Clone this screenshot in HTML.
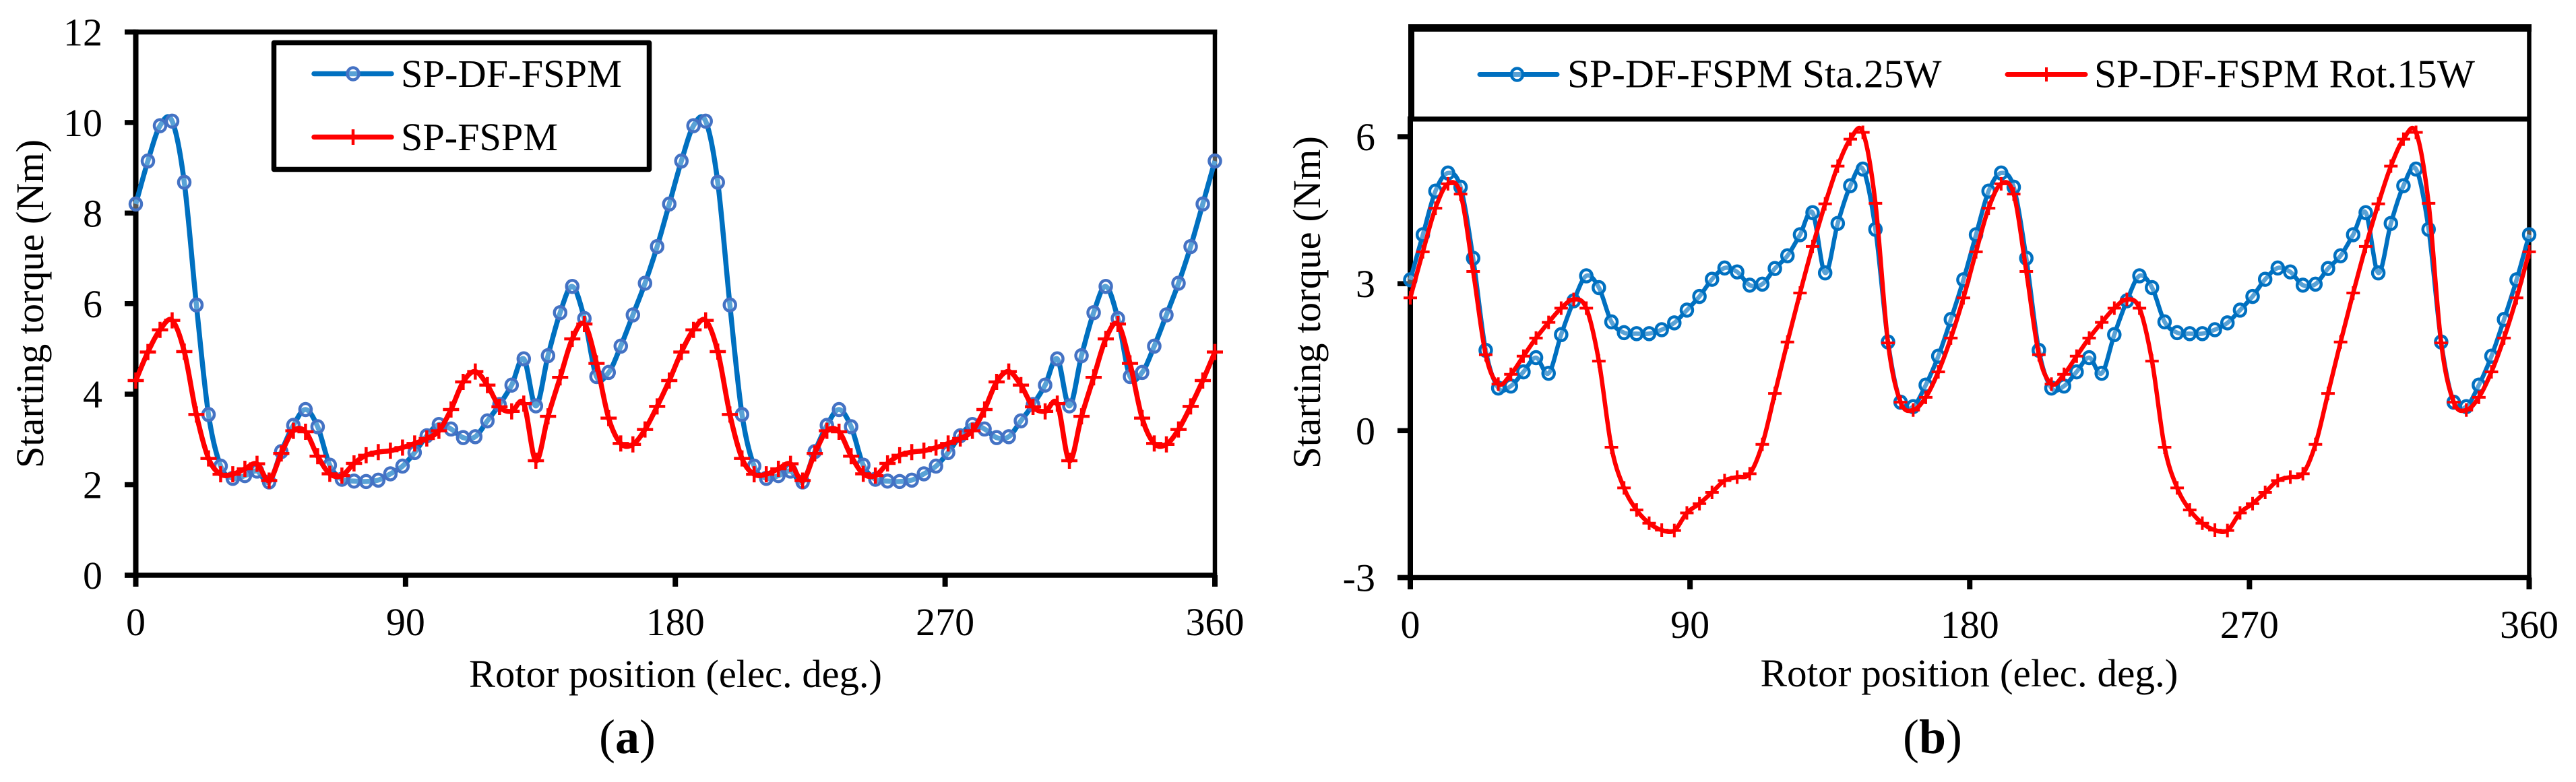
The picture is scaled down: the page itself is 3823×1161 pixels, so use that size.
<!DOCTYPE html>
<html lang="en">
<head>
<meta charset="utf-8">
<title>Starting torque versus rotor position</title>
<style>
html,body{margin:0;padding:0;background:#fff;}
body{width:3823px;height:1161px;overflow:hidden;}
svg{display:block;}
text{font-family:"Liberation Serif","Times New Roman",serif;fill:#000;}
</style>
</head>
<body>
<svg id="figure" xmlns="http://www.w3.org/2000/svg" width="3823" height="1161" viewBox="0 0 3823 1161">
  <rect x="0" y="0" width="3823" height="1161" fill="#ffffff"/>
  <g id="chart-a"></g>
  <g id="chart-b"></g>

  <g>
    <rect x="406.5" y="63.5" width="557" height="188" fill="#ffffff" stroke="#000" stroke-width="7.5" stroke-linejoin="round"/>
    <line x1="466" y1="109.5" x2="581" y2="109.5" stroke="#0070C0" stroke-width="7.5" stroke-linecap="round"/>
    <ellipse cx="524" cy="109.5" rx="8.5" ry="9" fill="#ffffff" fill-opacity="0.35" stroke="#4472C4" stroke-width="4.5"/>
    <text x="595" y="129" font-size="58.5" textLength="328" lengthAdjust="spacingAndGlyphs">SP-DF-FSPM</text>
    <line x1="466" y1="203.5" x2="581" y2="203.5" stroke="#FF0000" stroke-width="7.5" stroke-linecap="round"/>
    <line x1="524" y1="192" x2="524" y2="215" stroke="#FF0000" stroke-width="4.5"/>
    <text x="595" y="223" font-size="58.5" textLength="233" lengthAdjust="spacingAndGlyphs">SP-FSPM</text>
  </g>

  <g>
    <rect x="2090" y="36" width="1667" height="11" fill="#000"/>
    <rect x="2090" y="173" width="1665" height="7.5" fill="#000"/>
    <rect x="2090" y="36" width="9" height="144" fill="#000"/>
    <line x1="2196" y1="110.5" x2="2311" y2="110.5" stroke="#0070C0" stroke-width="7" stroke-linecap="round"/>
    <ellipse cx="2251.5" cy="110.5" rx="8.5" ry="9" fill="#ffffff" fill-opacity="0.35" stroke="#0070C0" stroke-width="4.5"/>
    <text x="2326" y="129.5" font-size="59.5" textLength="555.5" lengthAdjust="spacingAndGlyphs">SP-DF-FSPM Sta.25W</text>
    <line x1="2979" y1="110.5" x2="3095" y2="110.5" stroke="#FF0000" stroke-width="7" stroke-linecap="round"/>
    <line x1="3037" y1="100" x2="3037" y2="121" stroke="#FF0000" stroke-width="4"/>
    <text x="3108" y="129.5" font-size="59.5" textLength="565" lengthAdjust="spacingAndGlyphs">SP-DF-FSPM Rot.15W</text>
  </g>

  <text x="889" y="1118" font-size="72">(<tspan font-weight="bold">a</tspan>)</text>
  <text x="2824" y="1118" font-size="72">(<tspan font-weight="bold">b</tspan>)</text>
</svg>

<script>
const xTickValues = [0, 90, 180, 270, 360];
const xTickLabels = ["0", "90", "180", "270", "360"];
const rotorStepDeg = 360 / 89;

const chartAYTicks = [0, 2, 4, 6, 8, 10, 12];
const chartAYLabels = ["0", "2", "4", "6", "8", "10", "12"];
const chartADualFed = [8.2,9.15,9.93,10.03,8.68,5.97,3.55,2.41,2.14,2.2,2.3,2.06,2.73,3.31,3.66,3.28,2.43,2.12,2.08,2.07,2.1,2.24,2.41,2.71,3.08,3.33,3.23,3.04,3.06,3.41,3.77,4.2,4.78,3.74,4.85,5.8,6.38,5.67,4.39,4.48,5.06,5.75,6.45,7.26,8.2,9.15,9.93,10.03,8.68,5.97,3.55,2.41,2.14,2.2,2.3,2.06,2.73,3.31,3.66,3.28,2.43,2.12,2.08,2.07,2.1,2.24,2.41,2.71,3.08,3.33,3.23,3.04,3.06,3.41,3.77,4.2,4.78,3.74,4.85,5.8,6.38,5.67,4.39,4.48,5.06,5.75,6.45,7.26,8.2,9.15];
const chartASingleFed = [4.3,4.93,5.42,5.63,4.94,3.55,2.58,2.23,2.23,2.35,2.46,2.09,2.69,3.19,3.17,2.63,2.24,2.2,2.47,2.65,2.72,2.75,2.82,2.91,3.02,3.19,3.66,4.27,4.5,4.2,3.72,3.62,3.79,2.53,3.51,4.37,5.22,5.55,4.68,3.47,2.91,2.89,3.22,3.73,4.3,4.93,5.42,5.63,4.94,3.55,2.58,2.23,2.23,2.35,2.46,2.09,2.69,3.19,3.17,2.63,2.24,2.2,2.47,2.65,2.72,2.75,2.82,2.91,3.02,3.19,3.66,4.27,4.5,4.2,3.72,3.62,3.79,2.53,3.51,4.37,5.22,5.55,4.68,3.47,2.91,2.89,3.22,3.73,4.3,4.93];

const chartBYTicks = [-3, 0, 3, 6];
const chartBYLabels = ["-3", "0", "3", "6"];
const chartBStator = [3.08,4.0,4.89,5.26,4.97,3.52,1.64,0.87,0.91,1.2,1.49,1.17,1.96,2.65,3.16,2.92,2.22,2.0,1.98,1.98,2.06,2.2,2.46,2.74,3.09,3.32,3.24,2.97,2.99,3.31,3.57,4.0,4.45,3.22,4.23,5.0,5.34,4.11,1.81,0.58,0.49,0.93,1.52,2.27,3.08,4.0,4.89,5.26,4.97,3.52,1.64,0.87,0.91,1.2,1.49,1.17,1.96,2.65,3.16,2.92,2.22,2.0,1.98,1.98,2.06,2.2,2.46,2.74,3.09,3.32,3.24,2.97,2.99,3.31,3.57,4.0,4.45,3.22,4.23,5.0,5.34,4.11,1.81,0.58,0.49,0.93,1.52,2.27,3.08,4.0];
const chartBRotor = [2.71,3.65,4.54,5.04,4.83,3.25,1.55,0.95,1.15,1.52,1.89,2.21,2.5,2.68,2.5,1.42,-0.34,-1.17,-1.62,-1.89,-2.03,-2.04,-1.68,-1.49,-1.26,-1.02,-0.95,-0.88,-0.28,0.76,1.81,2.81,3.76,4.63,5.4,5.95,6.09,4.64,1.79,0.58,0.42,0.68,1.2,1.89,2.71,3.65,4.54,5.04,4.83,3.25,1.55,0.95,1.15,1.52,1.89,2.21,2.5,2.68,2.5,1.42,-0.34,-1.17,-1.62,-1.89,-2.03,-2.04,-1.68,-1.49,-1.26,-1.02,-0.95,-0.88,-0.28,0.76,1.81,2.81,3.76,4.63,5.4,5.95,6.09,4.64,1.79,0.58,0.42,0.68,1.2,1.89,2.71,3.65];

const SVG_NS = "http://www.w3.org/2000/svg";

function makeLinearScale(domainMin, domainMax, rangeMin, rangeMax) {
  return function (value) {
    return rangeMin + (value - domainMin) * (rangeMax - rangeMin) / (domainMax - domainMin);
  };
}

function createNode(parent, tag, props, content) {
  const el = document.createElementNS(SVG_NS, tag);
  for (const key in props) {
    el.setAttribute(key, props[key]);
  }
  if (content !== undefined) {
    el.textContent = content;
  }
  parent.appendChild(el);
  return el;
}

function smoothPath(points) {
  let d = "M" + points[0][0].toFixed(2) + " " + points[0][1].toFixed(2);
  for (let i = 0; i < points.length - 1; i++) {
    const p0 = points[Math.max(i - 1, 0)];
    const p1 = points[i];
    const p2 = points[i + 1];
    const p3 = points[Math.min(i + 2, points.length - 1)];
    const c1x = p1[0] + (p2[0] - p0[0]) / 6;
    const c1y = p1[1] + (p2[1] - p0[1]) / 6;
    const c2x = p2[0] - (p3[0] - p1[0]) / 6;
    const c2y = p2[1] - (p3[1] - p1[1]) / 6;
    d += "C" + c1x.toFixed(2) + " " + c1y.toFixed(2) + " " + c2x.toFixed(2) + " " + c2y.toFixed(2) + " " + p2[0].toFixed(2) + " " + p2[1].toFixed(2);
  }
  return d;
}

function drawAxes(group, cfg) {
  const thick = cfg.thick;
  const top = createNode(group, "rect", {x: cfg.tickLeft, y: cfg.top - thick / 2, width: cfg.xEnd + cfg.rightWidth / 2 - cfg.tickLeft, height: thick, fill: "#000"});
  
  
  if (cfg.hideTop) { top.setAttribute("visibility", "hidden"); }

  const left = createNode(group, "rect", {x: cfg.xScale(0) - cfg.leftWidth / 2, y: cfg.top - thick / 2, width: cfg.leftWidth, height: cfg.tickBottom - cfg.top + thick / 2, fill: "#000"});
  
  

  const right = createNode(group, "rect", {x: cfg.xEnd - cfg.rightWidth / 2, y: cfg.rightTop, width: cfg.rightWidth, height: cfg.tickBottom - cfg.rightTop, fill: "#000"});
  
  

  const bottom = createNode(group, "rect", {x: cfg.tickLeft, y: cfg.yBase - thick / 2, width: cfg.xEnd + cfg.rightWidth / 2 - cfg.tickLeft, height: thick, fill: "#000"});
  
  

  cfg.yTicks.forEach(function (value, i) {
    const y = cfg.yScale(value);
    const tick = createNode(group, "rect", {x: cfg.tickLeft, y: y - thick / 2, width: cfg.xScale(0) - cfg.tickLeft, height: thick, fill: "#000"});
    
    
    const label = createNode(group, "text", {x: cfg.yLabelX, y: y + 20, "font-size": cfg.tickFont, "text-anchor": "end"}, cfg.yLabels[i]);
    
    
  });

  xTickValues.forEach(function (value, i) {
    const x = cfg.xScale(value);
    const tick = createNode(group, "rect", {x: x - cfg.leftWidth / 2, y: cfg.yBase, width: cfg.leftWidth, height: cfg.tickBottom - cfg.yBase, fill: "#000"});
    
    
    const label = createNode(group, "text", {x: x, y: cfg.xLabelY, "font-size": cfg.tickFont, "text-anchor": "middle"}, xTickLabels[i]);
    
    
  });

  const xTitle = createNode(group, "text", {x: cfg.xTitleX, y: cfg.xTitleY, "font-size": 58, textLength: cfg.xTitleLen, lengthAdjust: "spacingAndGlyphs", "xml:space": "preserve"}, "Rotor position (elec.  deg.)");
  
  

  const yTitle = createNode(group, "text", {x: 0, y: 0, "font-size": 58, textLength: cfg.yTitleLen, lengthAdjust: "spacingAndGlyphs", transform: "translate(" + cfg.yTitleX + " " + cfg.yTitleY + ") rotate(-90)"}, "Starting torque (Nm)");
  
  
}

function drawBlueSeries(group, values, cfg, seriesName) {
  const pts = values.map(function (v, i) {
    return [cfg.xScale(i * rotorStepDeg), cfg.yScale(v)];
  });
  const line = createNode(group, "path", {d: smoothPath(pts), fill: "none", stroke: "#0070C0", "stroke-width": cfg.lineWidth, "stroke-linejoin": "round"});
  
  
  pts.forEach(function (p) {
    const marker = createNode(group, "ellipse", {cx: p[0], cy: p[1], rx: cfg.circleR, ry: cfg.circleR + 0.5, fill: "#ffffff", "fill-opacity": 0.35, stroke: cfg.circleColor, "stroke-width": cfg.circleStroke});
    
    
  });
}

function drawRedSeries(group, values, cfg, seriesName) {
  const pts = values.map(function (v, i) {
    return [cfg.xScale(i * rotorStepDeg), cfg.yScale(v)];
  });
  const line = createNode(group, "path", {d: smoothPath(pts), fill: "none", stroke: "#FF0000", "stroke-width": cfg.lineWidth, "stroke-linejoin": "round"});
  
  
  pts.forEach(function (p) {
    const s = cfg.plusSize;
    const marker = createNode(group, "path", {d: "M" + (p[0] - s) + " " + p[1] + "H" + (p[0] + s) + "M" + p[0] + " " + (p[1] - s) + "V" + (p[1] + s), fill: "none", stroke: "#FF0000", "stroke-width": cfg.plusStroke});
    
    
  });
}

const groupA = document.getElementById("chart-a");
const configA = {
  xScale: makeLinearScale(0, 360, 201.5, 1803),
  yScale: makeLinearScale(0, 12, 854, 47.5),
  yTicks: chartAYTicks, yLabels: chartAYLabels,
  top: 47.5, rightTop: 44, yBase: 854, tickLeft: 185, tickBottom: 871, xEnd: 1803,
  thick: 7.5, leftWidth: 8, rightWidth: 6.5, yLabelX: 152, xLabelY: 943, tickFont: 58,
  xTitleX: 696, xTitleY: 1020, xTitleLen: 613, yTitleX: 64, yTitleY: 695, yTitleLen: 488,
  lineWidth: 7.5, circleR: 8.5, circleColor: "#4472C4", circleStroke: 4.5, plusSize: 12, plusStroke: 4.5
};
drawAxes(groupA, configA);
drawBlueSeries(groupA, chartADualFed, configA, "sp-df-fspm");
drawRedSeries(groupA, chartASingleFed, configA, "sp-fspm");

const groupB = document.getElementById("chart-b");
const configB = {
  xScale: makeLinearScale(0, 360, 2093, 3753.5),
  yScale: makeLinearScale(-3, 6, 857.5, 203),
  yTicks: chartBYTicks, yLabels: chartBYLabels,
  top: 176.5, hideTop: true, rightTop: 36, yBase: 857.5, tickLeft: 2074, tickBottom: 875, xEnd: 3753.5,
  thick: 7.5, leftWidth: 8, rightWidth: 6.5, yLabelX: 2041, xLabelY: 947, tickFont: 58,
  xTitleX: 2612.5, xTitleY: 1019, xTitleLen: 620, yTitleX: 1959, yTitleY: 696, yTitleLen: 494,
  lineWidth: 6.5, circleR: 8.5, circleColor: "#0070C0", circleStroke: 4.5, plusSize: 10, plusStroke: 4
};
drawAxes(groupB, configB);
drawBlueSeries(groupB, chartBStator, configB, "stator-25w");
drawRedSeries(groupB, chartBRotor, configB, "rotor-15w");
</script>
</body>
</html>
